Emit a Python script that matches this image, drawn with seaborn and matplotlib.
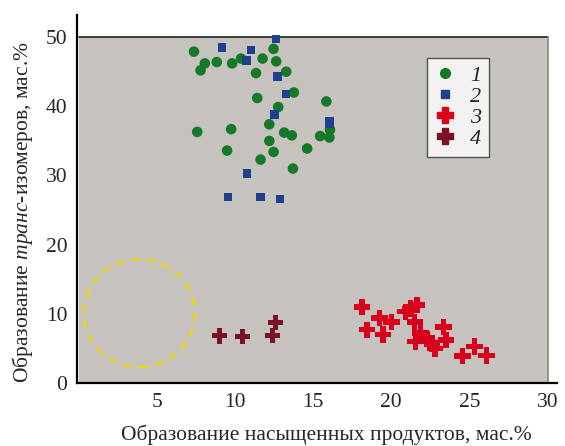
import matplotlib
matplotlib.use('Agg')
import matplotlib.pyplot as plt
import seaborn as sns
import pandas as pd
from matplotlib.patches import Rectangle, Ellipse
from matplotlib.lines import Line2D

# Данные
g1_x = [7.38, 8.08, 7.80, 8.84, 9.82, 10.39, 11.77, 12.47, 12.64, 13.28, 11.35, 13.77, 11.43, 15.85,
        12.77, 7.59, 9.76, 12.20, 13.15, 13.64, 15.45, 16.08, 16.04, 12.20, 14.62, 9.50, 12.47, 11.64, 13.71]
g1_y = [47.9, 46.2, 45.2, 46.4, 46.2, 46.9, 46.9, 48.3, 46.5, 45.0, 44.8, 42.0, 41.2, 40.7,
        39.9, 36.3, 36.7, 37.4, 36.2, 35.8, 35.7, 36.6, 35.5, 35.0, 33.9, 33.6, 33.4, 32.3, 31.0]
g2_x = [12.62, 9.18, 11.01, 10.75, 12.73, 13.28, 12.54, 16.06, 16.06, 10.77, 9.56, 11.64, 12.88]
g2_y = [49.7, 48.5, 48.1, 46.6, 44.3, 41.8, 38.8, 37.9, 37.4, 30.3, 26.9, 26.9, 26.6]
g3_x = [18.14, 19.25, 20.01, 18.46, 19.48, 20.90, 21.22, 21.65, 21.50, 21.86, 21.54, 22.28, 22.81,
        22.60, 23.34, 23.49, 24.55, 25.32, 26.10]
g3_y = [11.0, 9.4, 8.8, 7.7, 7.0, 10.3, 10.8, 11.3, 8.8, 7.2, 6.0, 6.4, 5.0,
        5.7, 8.1, 6.2, 3.9, 5.3, 4.0]
g4_x = [9.01, 10.50, 12.58, 12.41]
g4_y = [6.8, 6.7, 8.7, 6.9]

groups = ['1', '2', '3', '4']
colors = {'1': '#16792a', '2': '#1f3f8f', '3': '#d9001b', '4': '#7a1425'}
markers = {'1': 'o', '2': 's', '3': 'P', '4': 'P'}
sizes = {'1': 58, '2': 36, '3': 140, '4': 120}

xticks = [5, 10, 15, 20, 25, 30]
yticks = [0, 10, 20, 30, 40, 50]

df = pd.concat([
    pd.DataFrame({'x': g1_x, 'y': g1_y, 'g': '1'}),
    pd.DataFrame({'x': g2_x, 'y': g2_y, 'g': '2'}),
    pd.DataFrame({'x': g3_x, 'y': g3_y, 'g': '3'}),
    pd.DataFrame({'x': g4_x, 'y': g4_y, 'g': '4'}),
])

sns.set_style('white')
plt.rcParams['font.family'] = ['Liberation Serif', 'DejaVu Serif']
plt.rcParams['mathtext.fontset'] = 'custom'
plt.rcParams['mathtext.rm'] = 'Liberation Serif'
plt.rcParams['mathtext.it'] = 'Liberation Serif:italic'

fig = plt.figure(figsize=(5.65, 4.46), dpi=100)
ax = fig.add_axes([77 / 565, 1 - 383 / 446, (557 - 77) / 565, (383 - 15) / 446])

# серый фон области данных
ax.add_patch(Rectangle((0, 0), 30, 50, facecolor='#c6c2be', edgecolor='none', zorder=0))
ax.plot([0, 30], [50, 50], color='#222222', lw=1.2, zorder=1)
ax.plot([30, 30], [0, 50], color='#8a8884', lw=1.2, zorder=1)

sns.scatterplot(data=df, x='x', y='y', hue='g', style='g', size='g',
                palette=colors, markers=markers, sizes=sizes,
                edgecolor='none', linewidth=0, legend=False, ax=ax, zorder=3)

ax.add_patch(Ellipse((3.9, 10.1), 7.1, 15.6, fill=False, edgecolor='#f2d600',
                     lw=1.6, linestyle=(0, (4, 3)), zorder=2))

ax.set_xlim(-0.1, 30.6)
ax.set_ylim(0, 53.2)
ax.set_xticks(xticks)
ax.set_yticks(yticks)
ax.tick_params(direction='in', length=5, width=1, labelsize=15.5, pad=7)
for s in ['top', 'right']:
    ax.spines[s].set_visible(False)
for s in ['left', 'bottom']:
    ax.spines[s].set_linewidth(1.6)
    ax.spines[s].set_color('black')

ax.set_xlabel('Образование насыщенных продуктов, мас.%', fontsize=15.5, labelpad=9.5)
ax.xaxis.label.set_x(0.52)
ax.set_ylabel(r'Образование $\mathit{транс}$-изомеров, мас.%', fontsize=15.5, labelpad=8)
ax.yaxis.label.set_y(0.465)

handles = [Line2D([], [], ls='none', marker=markers[g], color=colors[g],
                  markersize={'1': 7, '2': 6, '3': 11, '4': 11}[g]) for g in groups]
leg = ax.legend(handles, groups, loc='upper left', bbox_to_anchor=(22.26, 47.0),
                bbox_transform=ax.transData, frameon=True, fancybox=False,
                prop={'family': 'Liberation Serif', 'style': 'italic', 'size': 16},
                handletextpad=0.6, labelspacing=0.02, borderpad=0.35, handlelength=1.0,
                borderaxespad=0)
leg.get_frame().set_edgecolor('#333333')
leg.get_frame().set_linewidth(1.0)

fig.savefig('out.png', dpi=100)
